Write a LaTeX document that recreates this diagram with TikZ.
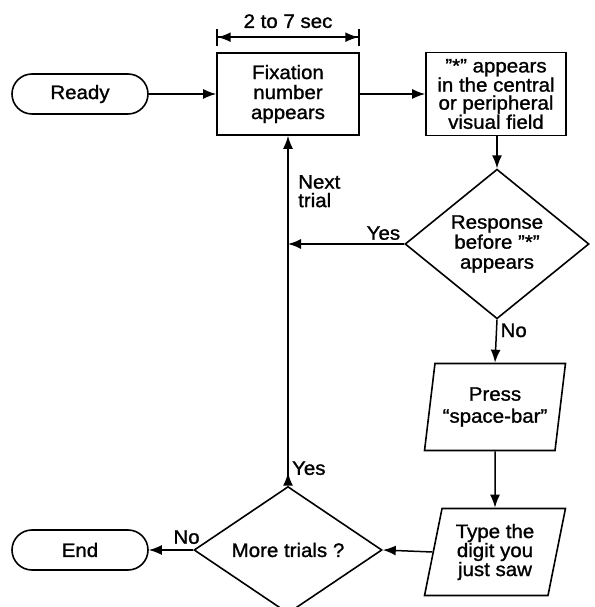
\documentclass[tikz,border=0pt]{standalone}
\usepackage{fontspec}
\setmainfont{Liberation Sans}[FakeStretch=1.05,FakeBold=1.2]
\usetikzlibrary{shapes.geometric,arrows.meta}

\begin{document}
\begin{tikzpicture}
[x=1pt,y=1pt,
  every node/.style={font=\fontsize{19.5}{20}\selectfont,align=center},
  termdecorate/.style={shape=rectangle,rounded corners=20pt,draw,line width=1.6pt,minimum width=136pt,minimum height=40pt},
  procdecorate/.style={shape=rectangle,draw,line width=1.6pt,minimum width=142pt,minimum height=82pt,inner sep=0pt},
  decidedecorate/.style={shape=diamond,draw,line width=1.6pt,inner sep=0pt},
  iodecorate/.style={shape=trapezium,trapezium left angle=77,trapezium right angle=103,trapezium stretches=true,draw,line width=1.6pt,minimum width=141pt,minimum height=87pt,inner sep=0pt},
  linedecorate/.style={-{Latex[length=13pt,width=10pt]},line width=1.5pt},
  dimdecorate/.style={{Bar[width=17pt]Latex[length=13pt,width=10pt]}-{Latex[length=13pt,width=10pt]Bar[width=17pt]},line width=1.5pt}]
\useasboundingbox (0,0) rectangle (594,607);
%% boxes
\node (fix) at (288,513) [procdecorate] {Fixation\\number\\appears};
\node (ready) at (80,513) [termdecorate] {Ready};
\node (star) at (496,513) [procdecorate,minimum width=140pt,minimum height=83pt,
  font=\fontsize{19.5}{18}\selectfont] {"*" appears\\in the central\\or peripheral\\visual field};
\node (resp) at (497,363) [decidedecorate,minimum width=184pt,minimum height=114pt] {Response\\before "*"\\appears};
\node (press) at (495,200) [iodecorate,font=\fontsize{19.5}{22}\selectfont] {Press\\``space-bar''};
\node (type) at (495,55) [iodecorate,font=\fontsize{19.5}{19}\selectfont] {Type the\\digit you\\just saw};
\node (more) at (288,57) [decidedecorate,minimum width=188pt,minimum height=114pt] {More trials ?};
\node (end) at (80,57) [termdecorate] {End};
\node (nexttrial) at (298,432) [anchor=north west,inner sep=0pt,align=left,
  font=\fontsize{19.5}{18.5}\selectfont] {Next\\trial};
\coordinate (join) at (fix.south |- resp.west);
%% connectors
\draw[dimdecorate] ([yshift=15pt]fix.north west) -- ([yshift=15pt]fix.north east)
  node[midway,above=5pt] {2 to 7 sec};
\draw[linedecorate] (ready) -- (fix);
\draw[linedecorate] (fix) -- (star);
\draw[linedecorate] (star.south -| resp.north) -- (resp.north);
\draw[linedecorate] (resp.west) -- (join) node[pos=0,above left] {Yes};
\draw[linedecorate] (resp.south) -- (press.north) node[pos=0.25,right] {No};
\draw[linedecorate] (press.south) -- (type.north);
\draw[linedecorate] (type.west) -- (more.east);
\draw[linedecorate] (more.west) -- (end.east) node[pos=0.15,above=2pt] {No};
\draw[linedecorate,arrows={Latex[length=13pt,width=10pt,reversed]-Latex[length=13pt,width=10pt]}]
  (more.north) -- (fix.south) node[pos=0.05,right] {Yes};
\end{tikzpicture}
\end{document}
